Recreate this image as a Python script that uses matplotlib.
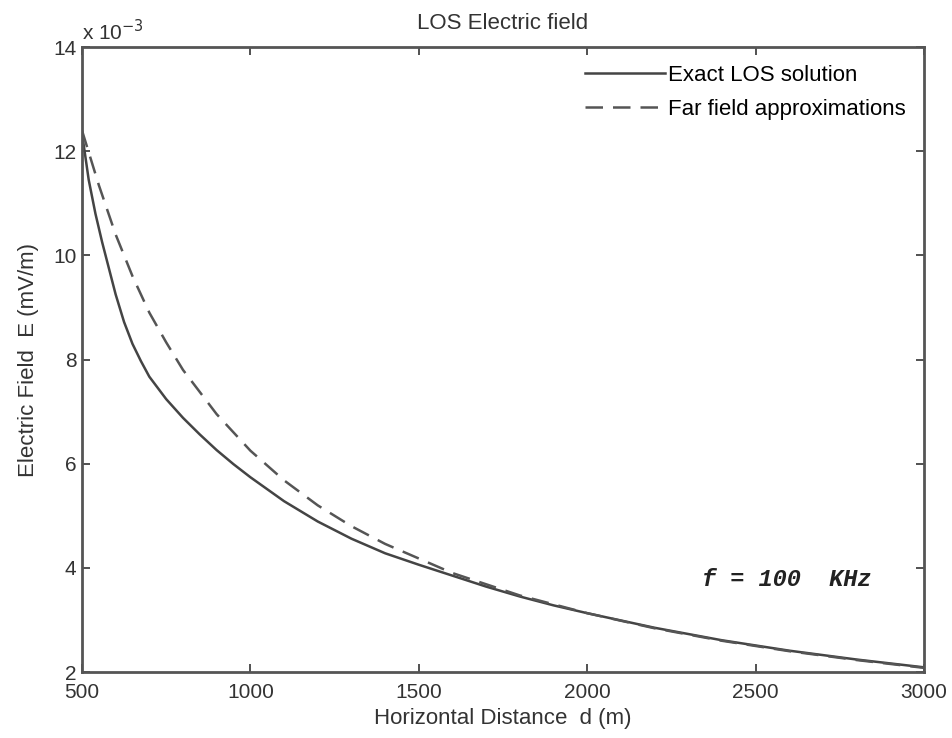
import matplotlib

matplotlib.use("Agg")
import matplotlib.pyplot as plt

# horizontal distance d (m) and field values (x 1e-3 mV/m)
d_exact = [500, 520, 540, 560, 580, 600, 625, 650, 675, 700, 750, 800, 850,
           900, 950, 1000, 1100, 1200, 1300, 1400, 1500, 1600, 1700, 1800,
           1900, 2000, 2200, 2400, 2600, 2800, 3000]
e_exact = [12.35, 11.45, 10.8, 10.25, 9.75, 9.25, 8.72, 8.3, 7.97, 7.67, 7.24,
           6.88, 6.56, 6.26, 5.99, 5.74, 5.28, 4.89, 4.56, 4.28, 4.06, 3.85,
           3.64, 3.45, 3.28, 3.13, 2.85, 2.61, 2.41, 2.24, 2.09]

d_far = [500, 550, 600, 650, 700, 750, 800, 900, 1000, 1100, 1200, 1300,
         1400, 1500, 1600, 1800, 2000, 2200, 2400, 2600, 2800, 3000]
e_far = [12.4, 11.35, 10.4, 9.6, 8.9, 8.33, 7.8, 6.95, 6.25, 5.68, 5.2, 4.8,
         4.46, 4.18, 3.9, 3.47, 3.13, 2.84, 2.6, 2.4, 2.23, 2.08]

x_ticks = [500, 1000, 1500, 2000, 2500, 3000]
y_ticks = [2, 4, 6, 8, 10, 12, 14]

plt.rcParams["font.family"] = ["Liberation Sans", "DejaVu Sans"]
plt.rcParams["font.size"] = 16

fig = plt.figure(figsize=(9.52, 7.38), dpi=100)
ax = fig.add_axes([0.0861, 0.0894, 0.8845, 0.8469])

ax.plot(d_exact, e_exact, color="#444444", lw=1.8, label="Exact LOS solution")
ax.plot(d_far, e_far, color="#555555", lw=1.8, ls=(0, (7, 4)),
        label="Far field approximations")

ax.set_xlim(500, 3000)
ax.set_ylim(2, 14)
ax.set_xticks(x_ticks)
ax.set_yticks(y_ticks)
ax.tick_params(direction="in", top=True, right=True, length=6, width=1.2,
               colors="#333333", labelcolor="#333333", labelsize=15)
ax.tick_params(axis="x", pad=8)
ax.tick_params(axis="y", pad=4)
for s in ax.spines.values():
    s.set_linewidth(2)
    s.set_color("#555555")

ax.set_title("LOS Electric field", fontsize=16, pad=13, color="#333333")
ax.set_xlabel("Horizontal Distance  d (m)", labelpad=4, color="#333333")
ax.set_ylabel("Electric Field  E (mV/m)", labelpad=10, color="#333333")
ax.text(0.0, 1.004, r"x 10$^{-3}$", transform=ax.transAxes, fontsize=15,
        ha="left", va="bottom", color="#333333")

ax.legend(loc="upper right", frameon=False, handlelength=3.6, fontsize=16,
          borderaxespad=0.4, labelspacing=0.6, handletextpad=0.15)

ax.text(2593, 3.77, "f = 100  KHz", family="Liberation Mono",
        style="italic", weight="bold", fontsize=17, ha="center", va="center",
        color="#222222")

fig.savefig("out.png", dpi=100)
